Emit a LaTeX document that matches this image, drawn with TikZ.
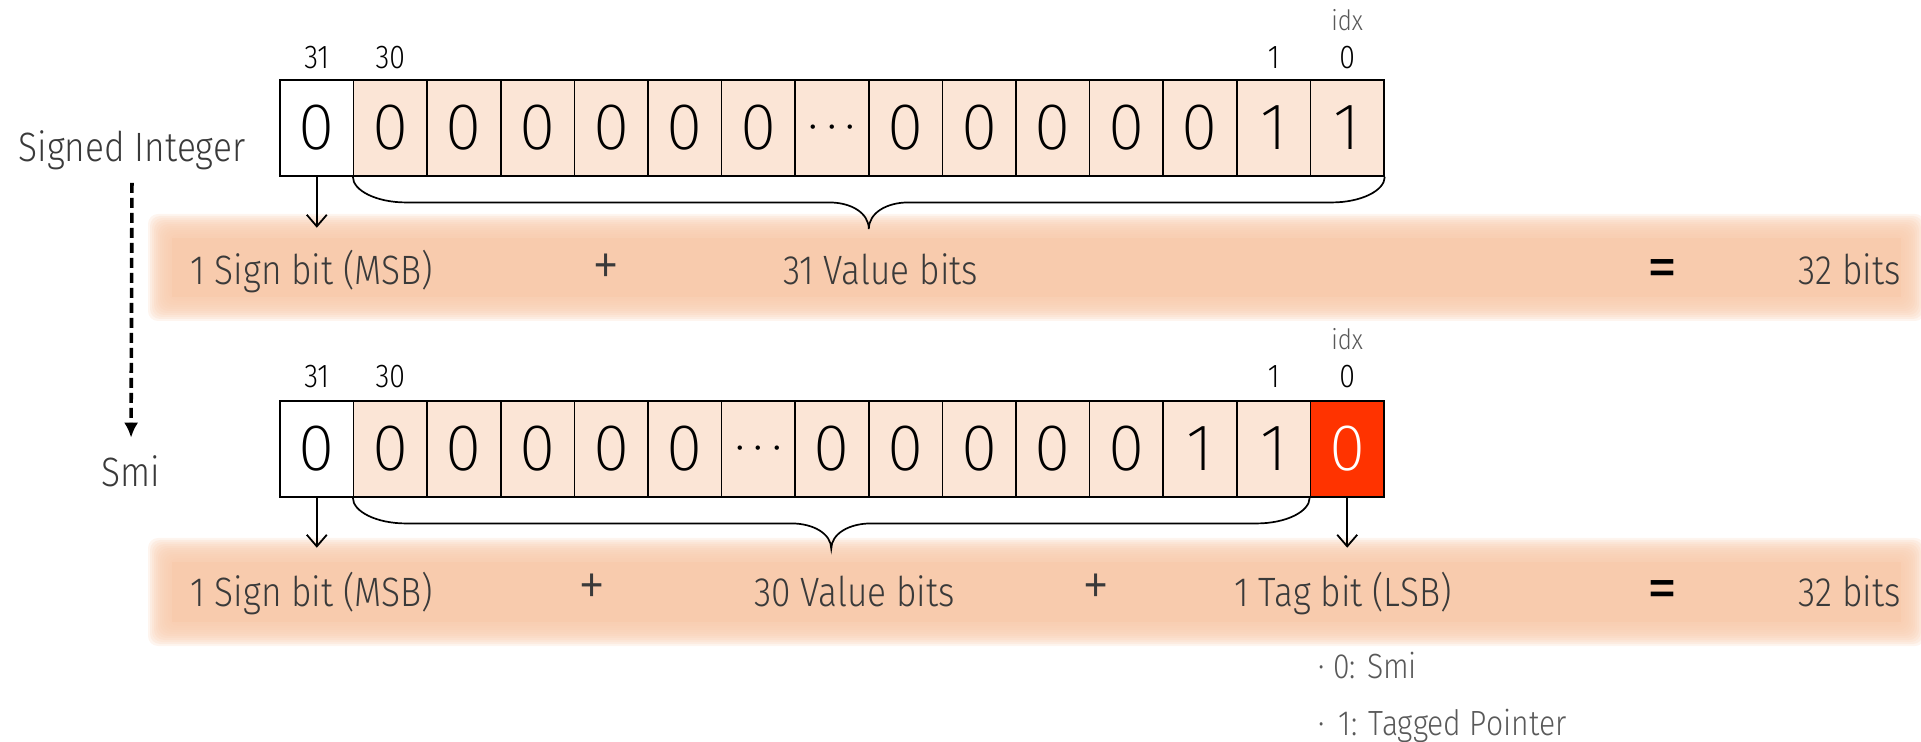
\documentclass[tikz,border=0pt]{standalone}
\usepackage{fontspec}
\setmainfont{Fira Sans Light}
\newfontfamily\txtfont{Fira Sans Light}[FakeStretch=0.86]
\newfontfamily\opfont{Fira Sans}
\newfontfamily\bitfont{Fira Sans ExtraLight}
\usetikzlibrary{arrows.meta,calc}

\definecolor{cellfill}{HTML}{FBE5D6}
\definecolor{bandfill}{HTML}{F8CBAD}
\definecolor{tagred}{HTML}{FF3300}
\definecolor{inkgray}{HTML}{3A3A3A}
\definecolor{softgray}{HTML}{595959}

% soft-edged band: opaque core plus translucent rings
\newcommand{\softband}[4]{%
  \fill[bandfill] (#1+12,#2+12) rectangle (#3-12,#4-12);
  \foreach \k in {1,...,12}{%
    \fill[bandfill, fill opacity=0.2, rounded corners=5pt]
      ({#1+12-2*\k},{#2+12-2*\k}) rectangle ({#3-12+2*\k},{#4-12+2*\k});
  }%
}

% curly brace under a run of cells, from corner #1 to corner #2, tip depth #3
\newcommand{\bitbrace}[3]{%
  \path (#1) coordinate (bl) (#2) coordinate (br) ($(bl)!0.5!(br)$) coordinate (bm);
  \draw[brc] (bl) .. controls ($(bl)+(0,14)$) and ($(bl)+(24,25.7)$) .. ($(bl)+(53,25.7)$)
    -- ($(bm)+(-39.5,25.7)$) .. controls ($(bm)+(-18,25.7)$) and ($(bm)+(0,36)$) .. ($(bm)+(0,#3)$)
    .. controls ($(bm)+(0,36)$) and ($(bm)+(18,25.7)$) .. ($(bm)+(39.5,25.7)$)
    -- ($(br)+(-53,25.7)$) .. controls ($(br)+(-24,25.7)$) and ($(br)+(0,14)$) .. (br);
}

\newcommand{\dotsym}{{\fontsize{20pt}{20pt}\selectfont$\cdots$}}

\begin{document}
\begin{tikzpicture}[x=0.5pt,y=-0.5pt,
  bitcell/.style={draw, line width=0.75pt, fill=cellfill, minimum width=36.8pt,
    minimum height=48pt, inner sep=0pt, font=\bitfont\fontsize{33}{33}\selectfont},
  idxlbl/.style={anchor=base, inner sep=0pt, font=\txtfont\fontsize{16.5}{18}\selectfont},
  idxhead/.style={anchor=base, inner sep=0pt, text=softgray, font=\txtfont\fontsize{14}{16}\selectfont},
  bandtxt/.style={anchor=base west, inner sep=0pt, text=inkgray, font=\txtfont\fontsize{20.5}{24}\selectfont},
  bandop/.style={anchor=base, inner sep=0pt, text=inkgray, font=\txtfont\fontsize{32}{34}\selectfont},
  eqop/.style={anchor=base, inner sep=0pt, text=black, font=\opfont\fontsize{30}{32}\selectfont},
  sidetxt/.style={anchor=base, inner sep=0pt, text=inkgray, font=\txtfont\fontsize{20.5}{24}\selectfont},
  legendtxt/.style={anchor=base west, inner sep=0pt, text=softgray, font=\txtfont\fontsize{17.5}{20}\selectfont},
  arr/.style={line width=0.9pt, -{Straight Barb[length=5.8pt,width=10pt,line width=0.9pt]}},
  brc/.style={line width=0.85pt},
  flowarrow/.style={line width=1.8pt, dash pattern=on 5pt off 2.5pt, -{Latex[length=7.5pt,width=7pt]}}
]
\useasboundingbox (0,0) rectangle (1921,742);

% background bands
\softband{160}{226}{1913}{309}
\softband{160}{550}{1913}{634}

% signed integer bits: value / fill / text colour
\foreach \v/\f/\c [count=\i from 0] in {0/white/black,0/cellfill/black,0/cellfill/black,
    0/cellfill/black,0/cellfill/black,0/cellfill/black,0/cellfill/black,\dotsym/cellfill/black,
    0/cellfill/black,0/cellfill/black,0/cellfill/black,0/cellfill/black,0/cellfill/black,
    1/cellfill/black,1/cellfill/black}
  \node[bitcell, fill=\f, text=\c] (t\i) at ({280+73.6*(\i+0.5)},128) {\v};

% smi bits
\foreach \v/\f/\c [count=\i from 0] in {0/white/black,0/cellfill/black,0/cellfill/black,
    0/cellfill/black,0/cellfill/black,0/cellfill/black,\dotsym/cellfill/black,
    0/cellfill/black,0/cellfill/black,0/cellfill/black,0/cellfill/black,0/cellfill/black,
    1/cellfill/black,1/cellfill/black,0/tagred/white}
  \node[bitcell, fill=\f, text=\c] (b\i) at ({280+73.6*(\i+0.5)},449) {\v};

% bit indices
\node[idxlbl] (t31) at ([yshift=5.6pt]t0.north) {31};
\node[idxlbl] (t30) at ([yshift=5.6pt]t1.north) {30};
\node[idxlbl] (t1l) at ([yshift=5.6pt]t13.north) {1};
\node[idxlbl] (t0l) at ([yshift=5.6pt]t14.north) {0};
\node[idxhead] (tidx) at ([yshift=24.3pt]t14.north) {idx};
\node[idxlbl] (b31) at ([yshift=6.3pt]b0.north) {31};
\node[idxlbl] (b30) at ([yshift=6.3pt]b1.north) {30};
\node[idxlbl] (b1l) at ([yshift=6.3pt]b13.north) {1};
\node[idxlbl] (b0l) at ([yshift=6.3pt]b14.north) {0};
\node[idxhead] (bidx) at ([yshift=25.5pt]b14.north) {idx};

% braces
\bitbrace{t1.south west}{t14.south east}{52.3}
\bitbrace{b1.south west}{b14.south west}{51}

% pointer arrows
\coordinate (tsign) at ([yshift=-25.5pt]t0.south);
\coordinate (bsign) at ([yshift=-25pt]b0.south);
\coordinate (btag) at ([yshift=-25pt]b14.south);
\draw[arr] (t0.south) -- (tsign);
\draw[arr] (b0.south) -- (bsign);
\draw[arr] (b14.south) -- (btag);

% band labels, signed integer
\node[bandtxt] (ts) at (190,285) {1 Sign bit (MSB)};
\node[bandop] (tp) at (606,287) {+};
\node[bandtxt] (tv) at (783,285) {31 Value bits};
\node[eqop] (te) at (1662,288) {=};
\node[bandtxt, anchor=base east] (tt) at (1901,285) {32 bits};

% band labels, smi
\node[bandtxt] (bs) at (190,606) {1 Sign bit (MSB)};
\node[bandop] (bp1) at (592,606) {+};
\node[bandtxt] (bv) at (754,606) {30 Value bits};
\node[bandop] (bp2) at (1096,606) {+};
\node[bandtxt] (bt) at (1234,606) {1 Tag bit (LSB)};
\node[eqop] (be) at (1662,608) {=};
\node[bandtxt, anchor=base east] (btt) at (1901,606) {32 bits};

% tag legend
\node[legendtxt] (l0) at (1318,678) {· 0: Smi};
\node[legendtxt] (l1) at (1318,735) {·\ \,1: Tagged Pointer};

% conversion arrow
\node[sidetxt] (sgn) at (132,162) {Signed Integer};
\node[sidetxt] (smi) at (131,487) {Smi};
\draw[flowarrow, shorten <=6pt, shorten >=9pt] (sgn.south) -- (smi.north);
\end{tikzpicture}
\end{document}
